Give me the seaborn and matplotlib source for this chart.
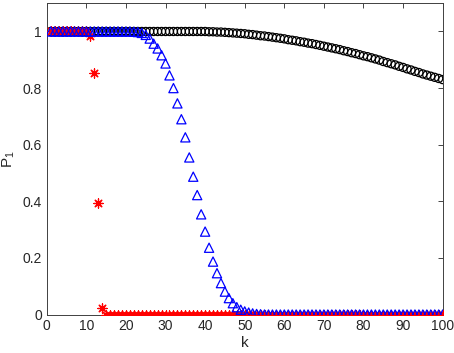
import numpy as np
import matplotlib
matplotlib.use("Agg")
import matplotlib.pyplot as plt
import seaborn as sns

# k = 1..100
k = list(range(1, 101))

# black circles
p_circle = [
    1.0, 1.0, 1.0, 1.0, 1.0, 1.0, 1.0, 1.0, 1.0, 1.0,
    1.0, 1.0, 1.0, 1.0, 1.0, 1.0, 1.0, 1.0, 1.0, 1.0,
    1.0, 1.0, 1.0, 1.0, 1.0, 1.0, 1.0, 1.0, 1.0, 1.0,
    1.0, 1.0, 1.0, 1.0, 1.0, 1.0, 1.0, 1.0, 1.0, 1.0,
    0.999, 0.999, 0.998, 0.998, 0.997, 0.996, 0.995, 0.994, 0.993, 0.992,
    0.990, 0.989, 0.987, 0.985, 0.984, 0.982, 0.980, 0.978, 0.976, 0.974,
    0.971, 0.969, 0.967, 0.964, 0.962, 0.959, 0.957, 0.954, 0.951, 0.948,
    0.945, 0.942, 0.939, 0.936, 0.932, 0.929, 0.925, 0.922, 0.918, 0.914,
    0.911, 0.907, 0.903, 0.899, 0.894, 0.890, 0.886, 0.882, 0.877, 0.873,
    0.868, 0.864, 0.859, 0.855, 0.850, 0.846, 0.842, 0.838, 0.834, 0.830,
]

# blue triangles
p_triangle = [
    1.0, 1.0, 1.0, 1.0, 1.0, 1.0, 1.0, 1.0, 1.0, 1.0,
    1.0, 1.0, 1.0, 1.0, 1.0, 1.0, 1.0, 1.0, 1.0, 1.0,
    1.0, 0.999, 0.998, 0.995, 0.988, 0.975, 0.957, 0.940, 0.916, 0.887,
    0.845, 0.800, 0.746, 0.690, 0.626, 0.555, 0.487, 0.422, 0.354, 0.293,
    0.236, 0.187, 0.146, 0.111, 0.081, 0.058, 0.040, 0.026, 0.017, 0.011,
    0.007, 0.004, 0.002, 0.001, 0.0, 0.0, 0.0, 0.0, 0.0, 0.0,
    0.0, 0.0, 0.0, 0.0, 0.0, 0.0, 0.0, 0.0, 0.0, 0.0,
    0.0, 0.0, 0.0, 0.0, 0.0, 0.0, 0.0, 0.0, 0.0, 0.0,
    0.0, 0.0, 0.0, 0.0, 0.0, 0.0, 0.0, 0.0, 0.0, 0.0,
    0.0, 0.0, 0.0, 0.0, 0.0, 0.0, 0.0, 0.0, 0.0, 0.0,
]

# red asterisks
p_star = [
    1.0, 1.0, 1.0, 1.0, 1.0, 1.0, 1.0, 1.0, 1.0, 1.0,
    0.983, 0.855, 0.394, 0.024, 0.0, 0.0, 0.0, 0.0, 0.0, 0.0,
    0.0, 0.0, 0.0, 0.0, 0.0, 0.0, 0.0, 0.0, 0.0, 0.0,
    0.0, 0.0, 0.0, 0.0, 0.0, 0.0, 0.0, 0.0, 0.0, 0.0,
    0.0, 0.0, 0.0, 0.0, 0.0, 0.0, 0.0, 0.0, 0.0, 0.0,
    0.0, 0.0, 0.0, 0.0, 0.0, 0.0, 0.0, 0.0, 0.0, 0.0,
    0.0, 0.0, 0.0, 0.0, 0.0, 0.0, 0.0, 0.0, 0.0, 0.0,
    0.0, 0.0, 0.0, 0.0, 0.0, 0.0, 0.0, 0.0, 0.0, 0.0,
    0.0, 0.0, 0.0, 0.0, 0.0, 0.0, 0.0, 0.0, 0.0, 0.0,
    0.0, 0.0, 0.0, 0.0, 0.0, 0.0, 0.0, 0.0, 0.0, 0.0,
]

xticks = [0, 10, 20, 30, 40, 50, 60, 70, 80, 90, 100]
yticks = [0, 0.2, 0.4, 0.6, 0.8, 1]

sns.set_style("white")
plt.rcParams["font.family"] = ["Liberation Sans", "DejaVu Sans"]

fig = plt.figure(figsize=(4.54, 3.53), dpi=100)
ax = fig.add_axes([0.103, 0.109, 0.872, 0.882])

sns.scatterplot(x=k, y=p_circle, ax=ax, marker="o", s=34, color="black",
                facecolor="none", edgecolor="black", linewidth=0.9, zorder=2)
sns.scatterplot(x=k, y=p_star, ax=ax, marker=(8, 2, 0), s=44, color="red",
                linewidth=0.9, zorder=3)
sns.scatterplot(x=k, y=p_triangle, ax=ax, marker="^", s=44, color="blue",
                facecolor="none", edgecolor="blue", linewidth=0.9, zorder=4)

ax.set_xlim(0, 100)
ax.set_ylim(0, 1.1)
ax.set_xticks(xticks)
ax.set_yticks(yticks)
ax.set_yticklabels(["0", "0.2", "0.4", "0.6", "0.8", "1"])
ax.tick_params(direction="in", length=3.5, width=0.6, colors="#262626",
               labelsize=10, top=True, right=True, labeltop=False, labelright=False)
for sp in ax.spines.values():
    sp.set_color("#404040")
    sp.set_linewidth(0.7)
ax.set_xlabel("k", fontsize=11, labelpad=2)
ax.set_ylabel(r"$\mathregular{P_1}$", fontsize=11, labelpad=4)

fig.savefig("out.png", dpi=100)
